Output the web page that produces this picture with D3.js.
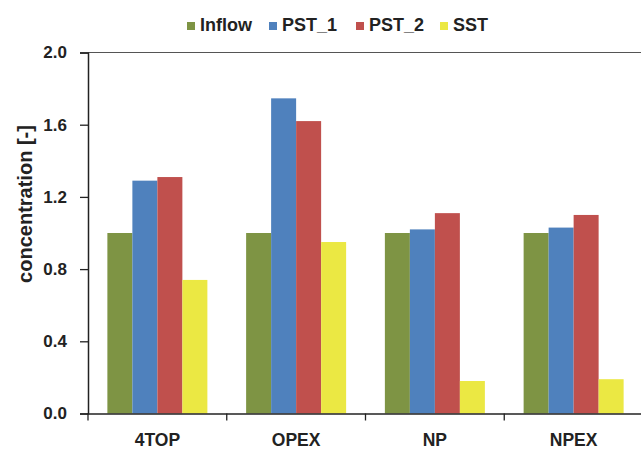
<!DOCTYPE html>
<html lang="en">
<head>
    <meta charset="UTF-8">
    <title>concentration bar chart</title>
    <script src="https://d3js.org/d3.v7.min.js"></script>
    <style>
        body { margin: 0; background: #fff; }
        text { font-family: "Liberation Sans", Arial, sans-serif; font-weight: bold; fill: #222; }
    </style>
</head>
<body>
    <script>
        // data
        const categories = ["4TOP", "OPEX", "NP", "NPEX"];
        const seriesNames = ["Inflow", "PST_1", "PST_2", "SST"];
        const inflow = [1.0, 1.0, 1.0, 1.0];
        const pst1 = [1.29, 1.746, 1.02, 1.03];
        const pst2 = [1.31, 1.62, 1.11, 1.10];
        const sst = [0.74, 0.95, 0.18, 0.19];
        const yTicks = [0.0, 0.4, 0.8, 1.2, 1.6, 2.0];
        const colors = ["#7e9444", "#4f81bd", "#c0504d", "#ebe843"];

        const values = [inflow, pst1, pst2, sst];

        const width = 641, height = 450;
        const margin = {top: 52.5, right: -2, bottom: 36.5, left: 88};
        const innerW = width - margin.left - margin.right;
        const innerH = height - margin.top - margin.bottom;

        const svg = d3.select("body").append("svg")
            .attr("width", width)
            .attr("height", height);

        const g = svg.append("g")
            .attr("transform", "translate(" + margin.left + "," + margin.top + ")");

        // scales
        const x = d3.scaleBand()
            .domain(categories)
            .range([0, innerW]);

        const x1 = d3.scaleBand()
            .domain(seriesNames)
            .range([0, 100])
            .padding(0);

        const y = d3.scaleLinear()
            .domain([0, 2.0])
            .range([innerH, 0]);

        // bars
        const groups = g.selectAll(".grp")
            .data(categories)
            .enter().append("g")
            .attr("class", "grp")
            .attr("transform", d => "translate(" + (x(d) + (x.bandwidth() - 100) / 2) + ",0)");

        groups.selectAll("rect")
            .data((c, ci) => seriesNames.map((s, si) => ({s: s, v: values[si][ci], i: si})))
            .enter().append("rect")
            .attr("x", d => x1(d.s))
            .attr("y", d => y(d.v))
            .attr("width", x1.bandwidth())
            .attr("height", d => innerH - y(d.v))
            .attr("fill", d => colors[d.i]);

        // top border line
        g.append("line")
            .attr("x1", 0).attr("x2", innerW + 10)
            .attr("y1", 0).attr("y2", 0)
            .attr("stroke", "#555").attr("stroke-width", 1.2);

        // y axis
        const yAxis = g.append("g")
            .call(d3.axisLeft(y).tickValues(yTicks).tickFormat(d3.format(".1f")).tickSize(8).tickPadding(13));
        yAxis.select(".domain").attr("stroke", "#222").attr("stroke-width", 1.5);
        yAxis.selectAll(".tick line").attr("stroke", "#222").attr("stroke-width", 1.3);
        yAxis.selectAll("text").style("font-size", "17px");

        // x axis
        const xAxis = g.append("g")
            .attr("transform", "translate(0," + innerH + ")")
            .call(d3.axisBottom(x).tickSize(0));
        xAxis.select(".domain").attr("stroke", "#222").attr("stroke-width", 1.5);
        xAxis.selectAll("text")
            .attr("y", 32).attr("dy", null)
            .style("font-size", "17.5px");
        // boundary ticks between categories
        xAxis.selectAll(".sep")
            .data(categories)
            .enter().append("line")
            .attr("class", "sep")
            .attr("x1", d => x(d)).attr("x2", d => x(d))
            .attr("y1", 0).attr("y2", 7)
            .attr("stroke", "#222").attr("stroke-width", 1.3);

        // y axis title
        svg.append("text")
            .attr("transform", "translate(32,204) rotate(-90)")
            .attr("text-anchor", "middle")
            .style("font-size", "20px")
            .text("concentration [-]");

        // legend
        const legendX = [200, 282, 369, 453];
        const legend = svg.selectAll(".leg")
            .data(seriesNames)
            .enter().append("g")
            .attr("class", "leg")
            .attr("transform", (d, i) => "translate(" + legendX[i] + ",0)");
        legend.append("rect")
            .attr("x", -13).attr("y", 22)
            .attr("width", 8).attr("height", 8)
            .attr("fill", (d, i) => colors[i]);
        legend.append("text")
            .attr("x", 0).attr("y", 31)
            .style("font-size", "18px")
            .text(d => d);
    </script>
</body>
</html>
